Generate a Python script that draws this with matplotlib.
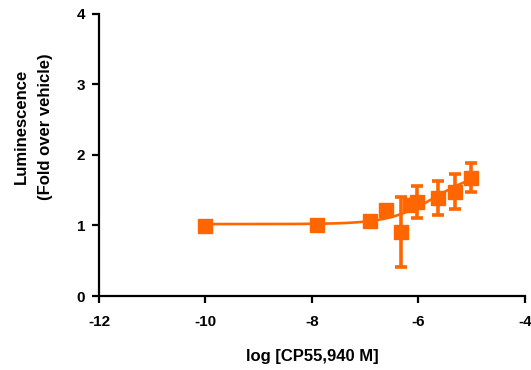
import numpy as np
import matplotlib
matplotlib.use("Agg")
import matplotlib.pyplot as plt

log_conc = [-10.0, -7.91, -6.91, -6.61, -6.32, -6.16, -6.02, -5.63, -5.31, -5.02]
lum = [0.99, 1.00, 1.07, 1.22, 0.91, 1.29, 1.33, 1.39, 1.48, 1.68]
err = [0.0, 0.0, 0.0, 0.0, 0.50, 0.0, 0.23, 0.24, 0.25, 0.21]

# Fit parameters (sigmoidal dose-response)
fit_bottom = 1.02
fit_top = 1.78
fit_logec50 = -5.69
fit_hill = 1.0

xticks = [-12, -10, -8, -6, -4]
yticks = [0, 1, 2, 3, 4]

color = "#FF6600"
plt.rcParams['font.family'] = ['Liberation Sans', 'DejaVu Sans']

fig = plt.figure(figsize=(5.31, 3.70), dpi=100)
ax = fig.add_axes([0.1864, 0.2, 0.8023, 0.7622])

xc = np.linspace(min(log_conc), max(log_conc), 300)
yc = fit_bottom + (fit_top - fit_bottom) / (1 + 10 ** ((fit_logec50 - xc) * fit_hill))
ax.plot(xc, yc, color=color, lw=1.9, zorder=2)

ax.errorbar(log_conc, lum, yerr=err, fmt='s', color=color, ms=9.5, elinewidth=2.6,
            capsize=4.5, capthick=2.6, zorder=3, clip_on=False)

ax.set_xlim(-12, -4)
ax.set_ylim(0, 4)
ax.set_xticks(xticks)
ax.set_yticks(yticks)
ax.set_xticklabels([str(t) for t in xticks])
ax.set_yticklabels([str(t) for t in yticks])
for s in ['top', 'right']:
    ax.spines[s].set_visible(False)
for s in ['left', 'bottom']:
    ax.spines[s].set_linewidth(1.6)
ax.tick_params(axis='both', direction='out', length=5, width=1.6, labelsize=11)
ax.tick_params(axis='x', pad=9)
ax.tick_params(axis='y', pad=5)
for lab in ax.get_xticklabels() + ax.get_yticklabels():
    lab.set_fontweight('bold')

ax.set_xlabel("log [CP55,940 M]", fontsize=12, fontweight='bold', labelpad=14)
ax.set_ylabel("Luminescence\n(Fold over vehicle)", fontsize=12, fontweight='bold', linespacing=1.75)
ax.yaxis.set_label_coords(-0.108, 0.6)

fig.savefig("out.png", dpi=100)
